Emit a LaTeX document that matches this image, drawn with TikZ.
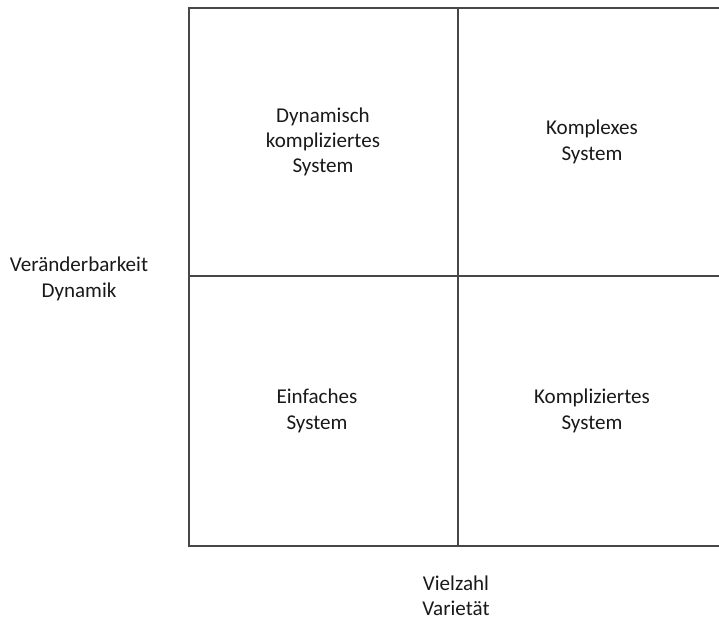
\documentclass[tikz,border=0pt]{standalone}
\usepackage{fontspec}
\setmainfont{Carlito}
\begin{document}
\begin{tikzpicture}[x=0.75pt,y=-0.75pt,
  gridline/.style={draw=black!72,line width=1.1pt},
  lbl/.style={align=center,inner sep=0pt,font=\fontsize{15.8pt}{19pt}\selectfont,text=black!90}]
\useasboundingbox (0,0) rectangle (719,619);
\coordinate (tl) at (189,8);
\coordinate (tr) at (719,8);
\coordinate (bl) at (189,546);
\coordinate (br) at (719,546);
\coordinate (mt) at (458,8);
\coordinate (mb) at (458,546);
\coordinate (ml) at (189,276);
\coordinate (mr) at (719,276);
\draw[gridline] (tr) -- (tl) -- (bl) -- (br);
\draw[gridline] (mt) -- (mb);
\draw[gridline] (ml) -- (mr);
\node[lbl] (dks) at (323,142) {Dynamisch\\kompliziertes\\System};
\node[lbl] (ks) at (592,142) {Komplexes\\System};
\node[lbl] (es) at (317,411) {Einfaches\\System};
\node[lbl] (kzs) at (592,411) {Kompliziertes\\System};
\node[lbl] (vd) at (79,279) {Veränderbarkeit\\Dynamik};
\node[lbl] (vv) at (456,596) {Vielzahl\\Varietät};
\end{tikzpicture}
\end{document}
